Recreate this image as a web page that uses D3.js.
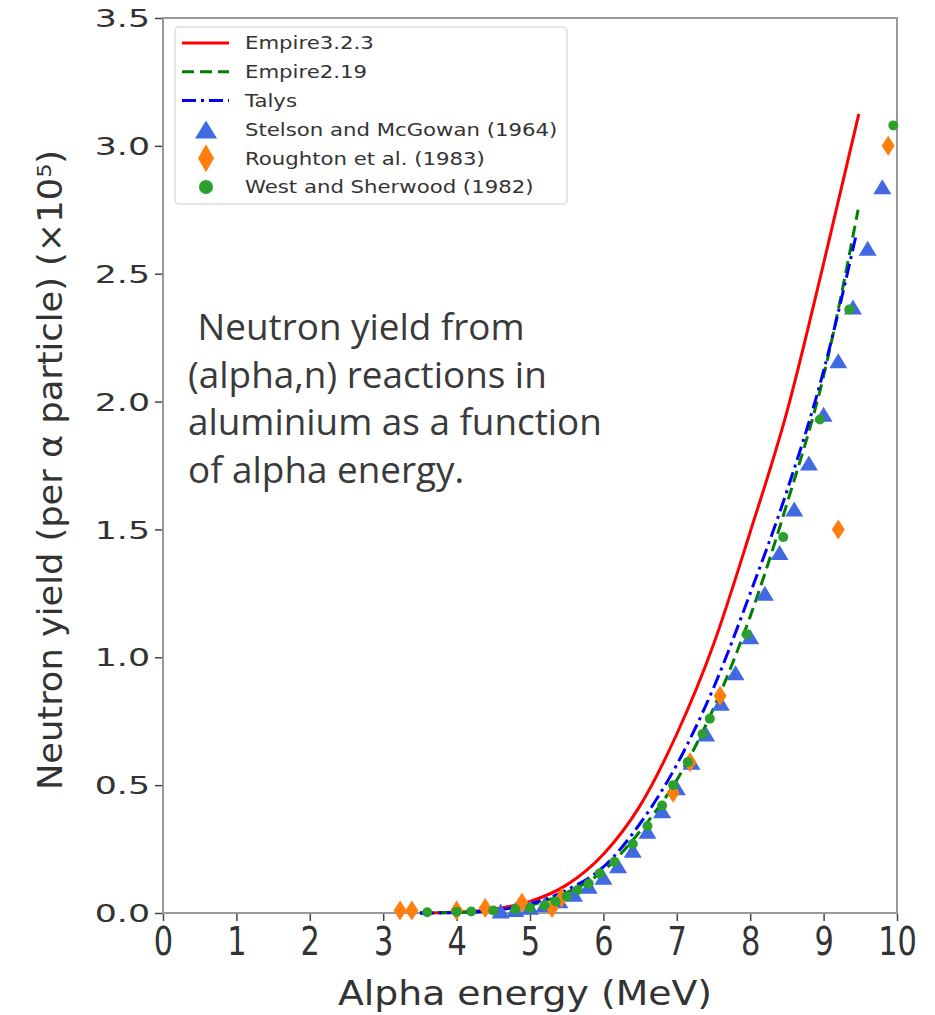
<!DOCTYPE html>
<html>
<head>
<meta charset="utf-8">
<script src="https://cdn.jsdelivr.net/npm/d3@7"></script>
<style>
  body { margin: 0; background: #fff; }
  svg { display: block; }
</style>
</head>
<body>
<div class="canvas"></div>
<script>
// series (energy in MeV, yield x10^5)
const empire323E = [3.5, 4.0, 4.5, 5.0, 5.5, 6.0, 6.5, 7.0, 7.5, 8.0, 8.5, 9.0, 9.48]
const empire323Y = [0.0, 0.003, 0.015, 0.045, 0.11, 0.23, 0.42, 0.70, 1.05, 1.49, 1.96, 2.54, 3.125]

const empire219E = [3.5, 4.0, 4.5, 5.0, 5.5, 6.0, 6.5, 7.0, 7.5, 8.0, 8.5, 9.0, 9.47]
const empire219Y = [0.0, 0.002, 0.008, 0.03, 0.08, 0.165, 0.32, 0.52, 0.80, 1.16, 1.60, 2.10, 2.75]

const talysE = [3.5, 4.0, 4.5, 5.0, 5.5, 6.0, 6.5, 7.0, 7.5, 8.0, 8.5, 9.0, 9.45]
const talysY = [0.0, 0.002, 0.01, 0.035, 0.09, 0.18, 0.35, 0.58, 0.88, 1.25, 1.65, 2.12, 2.66]

const stelsonE = [4.6, 4.8, 5.0, 5.2, 5.4, 5.6, 5.8, 6.0, 6.2, 6.4, 6.6, 6.8, 7.0, 7.2, 7.4,
  7.6, 7.8, 8.0, 8.2, 8.4, 8.6, 8.8, 9.0, 9.2, 9.4, 9.6, 9.8]
const stelsonY = [0.008, 0.014, 0.022, 0.033, 0.048, 0.073, 0.105, 0.14, 0.185, 0.245, 0.32, 0.40, 0.49, 0.59, 0.70,
  0.82, 0.94, 1.08, 1.25, 1.41, 1.58, 1.76, 1.95, 2.16, 2.37, 2.60, 2.84]

const roughtonE = [3.23, 3.39, 4.0, 4.39, 4.89, 5.3, 5.43, 6.95, 7.18, 7.59, 9.2, 9.88]
const roughtonY = [0.01, 0.01, 0.01, 0.02, 0.04, 0.02, 0.06, 0.47, 0.59, 0.85, 1.50, 3.0]

const westE = [3.6, 4.0, 4.2, 4.5, 4.8, 5.0, 5.2, 5.35, 5.5, 5.65, 5.8, 5.95, 6.15, 6.4, 6.6,
  6.8, 6.95, 7.15, 7.35, 7.45, 7.95, 8.45, 8.95, 9.35, 9.95]
const westY = [0.003, 0.005, 0.006, 0.01, 0.015, 0.02, 0.03, 0.045, 0.065, 0.09, 0.115, 0.155, 0.2, 0.27, 0.34,
  0.42, 0.5, 0.59, 0.7, 0.76, 1.09, 1.47, 1.93, 2.36, 3.08]

const xTicks = [0, 1, 2, 3, 4, 5, 6, 7, 8, 9, 10]
const yTicks = [0.0, 0.5, 1.0, 1.5, 2.0, 2.5, 3.0, 3.5]

const legendLabels = ['Empire3.2.3', 'Empire2.19', 'Talys',
  'Stelson and McGowan (1964)', 'Roughton et al. (1983)', 'West and Sherwood (1982)']

const noteLines = [' Neutron yield from', '(alpha,n) reactions in', 'aluminium as a function', 'of alpha energy.']

// layout
const W = 935, H = 1015
const plot = { left: 163, top: 18, right: 897, bottom: 913 }

const svg = d3.select('.canvas')
  .append('svg')
  .attr('width', W)
  .attr('height', H)

const x = d3.scaleLinear().domain([0, 10]).range([plot.left, plot.right])
const y = d3.scaleLinear().domain([0, 3.5]).range([plot.bottom, plot.top])

const zip = (xs, ys) => xs.map((v, i) => ({ e: v, v: ys[i] }))

// axes
const xAxis = d3.axisBottom(x).tickValues(xTicks).tickSize(8).tickFormat(d3.format('d'))
const yAxis = d3.axisLeft(y).tickValues(yTicks).tickSize(8).tickFormat(d3.format('.1f'))

const gx = svg.append('g')
  .attr('transform', `translate(0, ${plot.bottom})`)
  .call(xAxis)
gx.select('.domain').remove()
gx.selectAll('line').attr('stroke', '#444').attr('stroke-width', 1.5)
gx.selectAll('text')
  .attr('font-family', 'DejaVu Sans')
  .attr('font-size', 39)
  .attr('fill', '#333')
  .attr('y', 14)
  .attr('dy', '0.72em')
  .attr('transform', 'scale(0.78, 1)')

const gy = svg.append('g')
  .attr('transform', `translate(${plot.left}, 0)`)
  .call(yAxis)
gy.select('.domain').remove()
gy.selectAll('line').attr('stroke', '#444').attr('stroke-width', 1.5)
gy.selectAll('text')
  .attr('font-family', 'DejaVu Sans')
  .attr('font-size', 24)
  .attr('fill', '#333')
  .attr('x', -13 / 1.45)
  .attr('dy', '0.36em')
  .attr('transform', 'scale(1.45, 1)')

// spines
svg.append('rect')
  .attr('x', plot.left)
  .attr('y', plot.top)
  .attr('width', plot.right - plot.left)
  .attr('height', plot.bottom - plot.top)
  .attr('fill', 'none')
  .attr('stroke', '#999')
  .attr('stroke-width', 2)

// axis titles
svg.append('text')
  .attr('x', 338)
  .attr('y', 1005)
  .attr('font-family', 'DejaVu Sans')
  .attr('font-size', 34)
  .attr('fill', '#333')
  .attr('textLength', 374)
  .attr('lengthAdjust', 'spacingAndGlyphs')
  .text('Alpha energy (MeV)')

svg.append('text')
  .attr('transform', 'translate(62, 790) rotate(-90)')
  .attr('font-family', 'DejaVu Sans')
  .attr('font-size', 34)
  .attr('fill', '#333')
  .attr('textLength', 640)
  .attr('lengthAdjust', 'spacingAndGlyphs')
  .text('Neutron yield (per α particle) (×10⁵)')

// model curves
const line = d3.line()
  .x(d => x(d.e))
  .y(d => y(d.v))
  .curve(d3.curveMonotoneX)

const curves = [
  { name: 'Empire3.2.3', data: zip(empire323E, empire323Y), color: '#ff0000', dash: null },
  { name: 'Empire2.19', data: zip(empire219E, empire219Y), color: '#008000', dash: '12,6' },
  { name: 'Talys', data: zip(talysE, talysY), color: '#0000ff', dash: '14,5,3,5' },
]

const graph = svg.append('g')

graph.selectAll('path.curve')
  .data(curves)
  .enter()
  .append('path')
  .attr('class', 'curve')
  .attr('d', d => line(d.data))
  .attr('fill', 'none')
  .attr('stroke', d => d.color)
  .attr('stroke-width', 3)
  .attr('stroke-dasharray', d => d.dash)

// marker shapes
const triPath = (w, h) => `M0,${-h / 2}L${w / 2},${h / 2}L${-w / 2},${h / 2}Z`
const diaPath = (w, h) => `M0,${-h / 2}L${w / 2},0L0,${h / 2}L${-w / 2},0Z`

graph.selectAll('path.stelson')
  .data(zip(stelsonE, stelsonY))
  .enter()
  .append('path')
  .attr('class', 'stelson')
  .attr('d', triPath(18, 15))
  .attr('transform', d => `translate(${x(d.e)}, ${y(d.v)})`)
  .attr('fill', '#4169e1')

graph.selectAll('path.roughton')
  .data(zip(roughtonE, roughtonY))
  .enter()
  .append('path')
  .attr('class', 'roughton')
  .attr('d', diaPath(13, 20))
  .attr('transform', d => `translate(${x(d.e)}, ${y(d.v)})`)
  .attr('fill', '#ff7f0e')

graph.selectAll('circle.west')
  .data(zip(westE, westY))
  .enter()
  .append('circle')
  .attr('class', 'west')
  .attr('cx', d => x(d.e))
  .attr('cy', d => y(d.v))
  .attr('r', 5)
  .attr('fill', '#2ca02c')

// legend
const legend = svg.append('g')

legend.append('rect')
  .attr('x', 175)
  .attr('y', 27)
  .attr('width', 392)
  .attr('height', 177)
  .attr('rx', 4)
  .attr('fill', '#fff')
  .attr('fill-opacity', 0.8)
  .attr('stroke', '#ddd')
  .attr('stroke-width', 1.5)

const rowY = i => 43 + i * 28.8

curves.forEach((c, i) => {
  legend.append('line')
    .attr('x1', 182).attr('x2', 229)
    .attr('y1', rowY(i)).attr('y2', rowY(i))
    .attr('stroke', c.color)
    .attr('stroke-width', 3)
    .attr('stroke-dasharray', c.dash)
})

legend.append('path')
  .attr('d', triPath(22, 18))
  .attr('transform', `translate(206, ${rowY(3)})`)
  .attr('fill', '#4169e1')
legend.append('path')
  .attr('d', diaPath(16, 28))
  .attr('transform', `translate(206, ${rowY(4)})`)
  .attr('fill', '#ff7f0e')
legend.append('circle')
  .attr('cx', 206)
  .attr('cy', rowY(5))
  .attr('r', 7)
  .attr('fill', '#2ca02c')

// legend text is stretched sideways like the rest of the picture
const stretch = 1.18
legend.selectAll('text')
  .data(legendLabels)
  .enter()
  .append('text')
  .attr('x', 245 / stretch)
  .attr('y', (d, i) => rowY(i))
  .attr('dy', '0.36em')
  .attr('transform', `scale(${stretch}, 1)`)
  .attr('font-family', 'DejaVu Sans')
  .attr('font-size', 18)
  .attr('fill', '#333')
  .text(d => d)

// annotation text
const note = svg.append('g')
  .attr('font-family', 'Open Sans')
  .attr('fill', '#3a3a3a')

note.selectAll('text')
  .data(noteLines)
  .enter()
  .append('text')
  .attr('x', 188)
  .attr('y', (d, i) => 340 + i * 47.5)
  .attr('font-size', 33)
  .attr('xml:space', 'preserve')
  .style('white-space', 'pre')
  .text(d => d)

// fit the note to the width of its longest line in the picture
const longest = note.selectAll('text').nodes()[2]
const fit = 33 * 414 / longest.getComputedTextLength()
note.selectAll('text').attr('font-size', fit)
</script>
</body>
</html>
